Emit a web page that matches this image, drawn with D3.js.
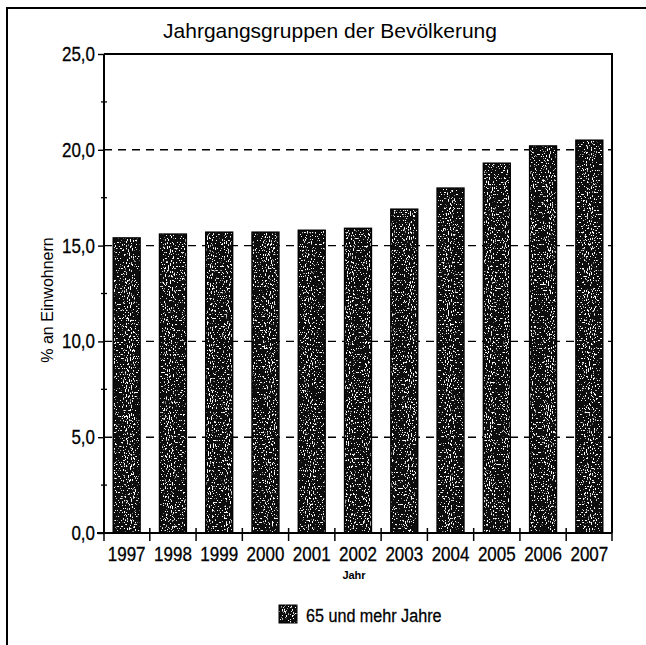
<!DOCTYPE html>
<html>
<head>
<meta charset="utf-8">
<script src="https://cdn.jsdelivr.net/npm/d3@7"></script>
<style>
  body { margin: 0; background: #fff; }
  svg text { font-family: "Liberation Sans", Arial, sans-serif; }
</style>
</head>
<body>
<svg width="646" height="645"></svg>
<script>
// data
const years = ["1997", "1998", "1999", "2000", "2001", "2002", "2003", "2004", "2005", "2006", "2007"];
const values = [15.4, 15.6, 15.7, 15.7, 15.8, 15.9, 16.9, 18.0, 19.3, 20.2, 20.5];
const yTicks = [0, 5, 10, 15, 20, 25];
const yMinorTicks = [2.5, 7.5, 12.5, 17.5, 22.5];
const seriesName = "65 und mehr Jahre";

// horizontal squeeze to mimic the condensed face
const squeeze = 0.85;

const svg = d3.select("svg");

// speckled texture for the bars
const defs = svg.append("defs");
const filt = defs.append("filter")
    .attr("id", "speckle")
    .attr("x", 0).attr("y", 0).attr("width", 1).attr("height", 1);
filt.append("feTurbulence")
    .attr("type", "fractalNoise")
    .attr("baseFrequency", "0.95 0.5")
    .attr("numOctaves", 2)
    .attr("seed", 3)
    .attr("result", "noise");
filt.append("feColorMatrix")
    .attr("in", "noise")
    .attr("type", "matrix")
    .attr("values", "0 0 0 0 1  0 0 0 0 1  0 0 0 0 1  0 0 0 -16 6.2")
    .attr("result", "specks");
filt.append("feComposite")
    .attr("in", "specks").attr("in2", "SourceGraphic")
    .attr("operator", "in").attr("result", "specksIn");
filt.append("feMerge").call(m => {
  m.append("feMergeNode").attr("in", "SourceGraphic");
  m.append("feMergeNode").attr("in", "specksIn");
});

// outer frame
svg.append("path")
    .attr("d", "M7,650 V8 H650")
    .attr("fill", "none")
    .attr("stroke", "#000")
    .attr("stroke-width", 2);

// scales
const x = d3.scaleBand()
    .domain(years)
    .range([104, 612])
    .paddingInner(0.42)
    .paddingOuter(0.2);

const y = d3.scaleLinear()
    .domain([0, 25])
    .range([533, 54]);

// title
svg.append("text")
    .attr("x", 330)
    .attr("y", 38)
    .attr("text-anchor", "middle")
    .attr("font-size", 21)
    .text("Jahrgangsgruppen der Bevölkerung");

// dashed gridlines
svg.append("g")
  .selectAll("line")
  .data(yTicks.filter(d => d > 0 && d < 25))
  .enter().append("line")
    .attr("x1", 104)
    .attr("x2", 612)
    .attr("y1", d => y(d))
    .attr("y2", d => y(d))
    .attr("stroke", "#000")
    .attr("stroke-width", 1.4)
    .attr("stroke-dasharray", "8,6");

// bars
const bars = svg.append("g");
bars.selectAll("rect.fill")
  .data(values)
  .enter().append("rect")
    .attr("class", "fill")
    .attr("x", (d, i) => x(years[i]))
    .attr("y", d => y(d))
    .attr("width", x.bandwidth())
    .attr("height", d => y(0) - y(d))
    .attr("fill", "#0a0a0a")
    .attr("filter", "url(#speckle)");
bars.selectAll("rect.edge")
  .data(values)
  .enter().append("rect")
    .attr("class", "edge")
    .attr("x", (d, i) => x(years[i]))
    .attr("y", d => y(d))
    .attr("width", x.bandwidth())
    .attr("height", d => y(0) - y(d))
    .attr("fill", "none")
    .attr("stroke", "#000")
    .attr("stroke-width", 1.5);

// plot frame (top and right)
svg.append("path")
    .attr("d", `M104,${y(25)} H612 V${y(0)}`)
    .attr("fill", "none")
    .attr("stroke", "#000")
    .attr("stroke-width", 2);

// y axis
const yAxis = svg.append("g")
    .attr("transform", "translate(104,0)")
    .call(d3.axisLeft(y)
      .tickValues(yTicks)
      .tickSize(6)
      .tickFormat(d => d3.format(".1f")(d).replace(".", ",")));
yAxis.select(".domain").attr("stroke-width", 2).attr("d", `M0,${y(0)}V${y(25)}`);
yAxis.selectAll("text")
    .attr("font-size", 20)
    .attr("fill", "#000")
    .attr("stroke", "#000")
    .attr("stroke-width", 0.3)
    .attr("x", -9 / squeeze)
    .attr("transform", `scale(${squeeze},1)`);
yAxis.selectAll(".tick line").attr("stroke-width", 1.4);

svg.append("g")
  .selectAll("line")
  .data(yMinorTicks)
  .enter().append("line")
    .attr("x1", 101)
    .attr("x2", 107)
    .attr("y1", d => y(d))
    .attr("y2", d => y(d))
    .attr("stroke", "#000")
    .attr("stroke-width", 1.3);

// x axis
const step = x.step();
const xAxis = svg.append("g")
    .attr("transform", `translate(0,${y(0)})`)
    .call(d3.axisBottom(x).tickSize(0).tickPadding(14));
xAxis.select(".domain").attr("stroke-width", 2).attr("d", "M97,0H612");
xAxis.selectAll("text")
    .attr("font-size", 20)
    .attr("fill", "#000")
    .attr("stroke", "#000")
    .attr("stroke-width", 0.3)
    .attr("transform", `scale(${squeeze},1)`);

const boundaries = [104].concat(years.slice(1).map(d => x(d) - step * x.paddingInner() / 2), [612]);
xAxis.append("g")
  .selectAll("line")
  .data(boundaries)
  .enter().append("line")
    .attr("x1", d => d)
    .attr("x2", d => d)
    .attr("y1", -5)
    .attr("y2", 8)
    .attr("stroke", "#000")
    .attr("stroke-width", 1.5);

// axis titles
svg.append("text")
    .attr("x", 354)
    .attr("y", 579)
    .attr("text-anchor", "middle")
    .attr("font-weight", "bold")
    .attr("font-size", 11)
    .text("Jahr");

svg.append("text")
    .attr("transform", "translate(53,300) rotate(-90)")
    .attr("text-anchor", "middle")
    .attr("font-size", 16)
    .text("% an Einwohnern");

// legend
const legend = svg.append("g").attr("transform", "translate(279,605)");
legend.append("rect")
    .attr("width", 18)
    .attr("height", 18)
    .attr("fill", "#0a0a0a")
    .attr("filter", "url(#speckle)");
legend.append("rect")
    .attr("width", 18)
    .attr("height", 18)
    .attr("fill", "none")
    .attr("stroke", "#000");
legend.append("text")
    .attr("x", 27 / squeeze)
    .attr("y", 17)
    .attr("font-size", 19)
    .attr("stroke", "#000")
    .attr("stroke-width", 0.3)
    .attr("transform", `scale(${squeeze},1)`)
    .text(seriesName);
</script>
</body>
</html>
